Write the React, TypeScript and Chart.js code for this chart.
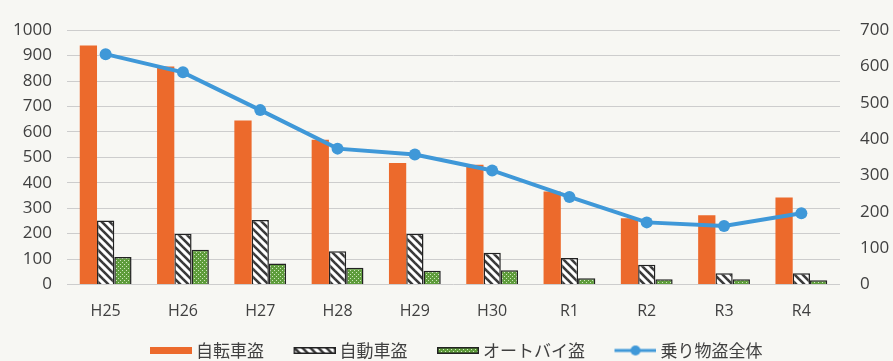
import React, { useEffect, useRef } from "react";
import { Chart, registerables } from "chart.js";

Chart.register(...registerables);

const categories = ["H25", "H26", "H27", "H28", "H29", "H30", "R1", "R2", "R3", "R4"];
const seriesLabels = ["自転車盗", "自動車盗", "オートバイ盗", "乗り物盗全体"];
const bicycleTheft = [940, 857, 645, 569, 478, 471, 366, 261, 272, 342];
const carTheft = [252, 200, 254, 131, 200, 125, 104, 78, 44, 44];
const motorcycleTheft = [108, 137, 83, 66, 54, 56, 25, 21, 21, 17];
const vehicleTheftTotal = [634, 584, 480, 374, 358, 314, 241, 171, 161, 196];
const leftAxisRange = [0, 1000, 100];
const rightAxisRange = [0, 700, 100];

const ORANGE = "#EC6A2C";
const BLUE = "#3F98D8";
const GREEN = "#5E9C3B";
const TEXT = "#404040";
const NUM_FONT = "'Open Sans', 'Noto Sans', sans-serif";
const JP_FONT = "'Noto Sans CJK JP', 'Noto Sans', sans-serif";
const SWATCH_SHIFT = 24;

function makeHatchTile(): HTMLCanvasElement {
  const s = 8;
  const c = document.createElement("canvas");
  c.width = s;
  c.height = s;
  const g = c.getContext("2d")!;
  g.fillStyle = "#ffffff";
  g.fillRect(0, 0, s, s);
  g.strokeStyle = "#3a3a3a";
  g.lineWidth = 2.6;
  for (const k of [-s, 0, s]) {
    g.beginPath();
    g.moveTo(k - 1, -1);
    g.lineTo(k + s + 1, s + 1);
    g.stroke();
  }
  return c;
}

function makeDotTile(): HTMLCanvasElement {
  const s = 4;
  const c = document.createElement("canvas");
  c.width = s;
  c.height = s;
  const g = c.getContext("2d")!;
  g.fillStyle = GREEN;
  g.fillRect(0, 0, s, s);
  g.fillStyle = "#cfe6bd";
  g.fillRect(0, 0, 1, 1);
  g.fillRect(2, 2, 1, 1);
  return c;
}

function makeBoxSwatch(fill: string | CanvasPattern, border: string | null): HTMLCanvasElement {
  const L = SWATCH_SHIFT;
  const c = document.createElement("canvas");
  c.width = 42 + L;
  c.height = 7;
  const g = c.getContext("2d")!;
  g.fillStyle = fill as any;
  g.fillRect(L, 0, 42, 7);
  if (border) {
    g.strokeStyle = border;
    g.lineWidth = 1.5;
    g.strokeRect(L + 0.75, 0.75, 40.5, 5.5);
  }
  return c;
}

function makeLineSwatch(): HTMLCanvasElement {
  const L = SWATCH_SHIFT;
  const c = document.createElement("canvas");
  c.width = 42 + L;
  c.height = 12;
  const g = c.getContext("2d")!;
  g.strokeStyle = BLUE;
  g.lineWidth = 3;
  g.beginPath();
  g.moveTo(L, 6);
  g.lineTo(L + 42, 6);
  g.stroke();
  g.fillStyle = BLUE;
  g.beginPath();
  g.arc(L + 21, 6, 5, 0, Math.PI * 2);
  g.fill();
  return c;
}

export default function App() {
  const ref = useRef<HTMLCanvasElement | null>(null);

  useEffect(() => {
    const canvas = ref.current;
    if (!canvas) return;
    const ctx = canvas.getContext("2d")!;
    const hatch = ctx.createPattern(makeHatchTile(), "repeat")!;
    const dots = ctx.createPattern(makeDotTile(), "repeat")!;
    const swatches = [
      makeBoxSwatch(ORANGE, null),
      makeBoxSwatch(hatch, "#222222"),
      makeBoxSwatch(dots, "#222222"),
      makeLineSwatch(),
    ];

    const chart = new Chart(canvas, {
      type: "bar",
      data: {
        labels: categories,
        datasets: [
          {
            label: seriesLabels[0],
            data: bicycleTheft,
            backgroundColor: ORANGE,
            borderWidth: 0,
            yAxisID: "y",
            order: 1,
            categoryPercentage: 0.67,
            barPercentage: 1,
          },
          {
            label: seriesLabels[1],
            data: carTheft,
            backgroundColor: hatch,
            borderColor: "#222222",
            borderWidth: 1.5,
            yAxisID: "y",
            order: 1,
            categoryPercentage: 0.67,
            barPercentage: 1,
          },
          {
            label: seriesLabels[2],
            data: motorcycleTheft,
            backgroundColor: dots,
            borderColor: "#222222",
            borderWidth: 1.5,
            yAxisID: "y",
            order: 1,
            categoryPercentage: 0.67,
            barPercentage: 1,
          },
          {
            type: "line",
            label: seriesLabels[3],
            data: vehicleTheftTotal,
            borderColor: BLUE,
            backgroundColor: BLUE,
            borderWidth: 4,
            pointRadius: 6,
            pointBackgroundColor: BLUE,
            pointBorderWidth: 0,
            tension: 0,
            yAxisID: "y1",
            order: 0,
          } as any,
        ],
      },
      options: {
        responsive: false,
        animation: false,
        devicePixelRatio: 1,
        layout: { padding: { top: 17, left: 0, right: 0, bottom: 0 } },
        plugins: {
          tooltip: { enabled: false },
          legend: {
            position: "bottom",
            labels: {
              usePointStyle: true,
              pointStyleWidth: 33 + SWATCH_SHIFT,
              padding: 10,
              color: TEXT,
              font: { size: 17, family: JP_FONT },
              generateLabels: (ch: any) =>
                ch.data.datasets.map((ds: any, i: number) => ({
                  text: ds.label,
                  fillStyle: "transparent",
                  strokeStyle: "transparent",
                  lineWidth: 0,
                  pointStyle: swatches[i],
                  hidden: false,
                  datasetIndex: i,
                  fontColor: TEXT,
                })),
            },
          },
        },
        scales: {
          x: {
            grid: { display: false, drawTicks: false },
            border: { display: false },
            ticks: { padding: 17, color: TEXT, font: { size: 16, family: NUM_FONT } },
            afterFit: (s: any) => {
              s.height = 47.5;
            },
          },
          y: {
            position: "left",
            min: leftAxisRange[0],
            max: leftAxisRange[1],
            ticks: {
              stepSize: leftAxisRange[2],
              padding: 15,
              color: TEXT,
              font: { size: 17, family: NUM_FONT },
              callback: (v: any) => String(v),
            },
            grid: { color: "#cdcdcd", lineWidth: 1, drawTicks: false },
            border: { display: false },
            afterFit: (s: any) => {
              s.width = 67;
            },
          },
          y1: {
            position: "right",
            min: rightAxisRange[0],
            max: rightAxisRange[1],
            ticks: {
              stepSize: rightAxisRange[2],
              padding: 20,
              color: TEXT,
              font: { size: 17, family: NUM_FONT },
              callback: (v: any) => String(v),
            },
            grid: { display: false, drawTicks: false },
            border: { display: false },
            afterFit: (s: any) => {
              s.width = 53;
            },
          },
        },
      } as any,
    });
    return () => chart.destroy();
  }, []);

  return (
    <div
      style={{
        position: "fixed",
        left: 0,
        top: 0,
        width: 893,
        height: 361,
        overflow: "hidden",
        background: "#f7f7f3",
      }}
    >
      <canvas ref={ref} width={893} height={369} style={{ display: "block", width: 893, height: 369 }} />
    </div>
  );
}
